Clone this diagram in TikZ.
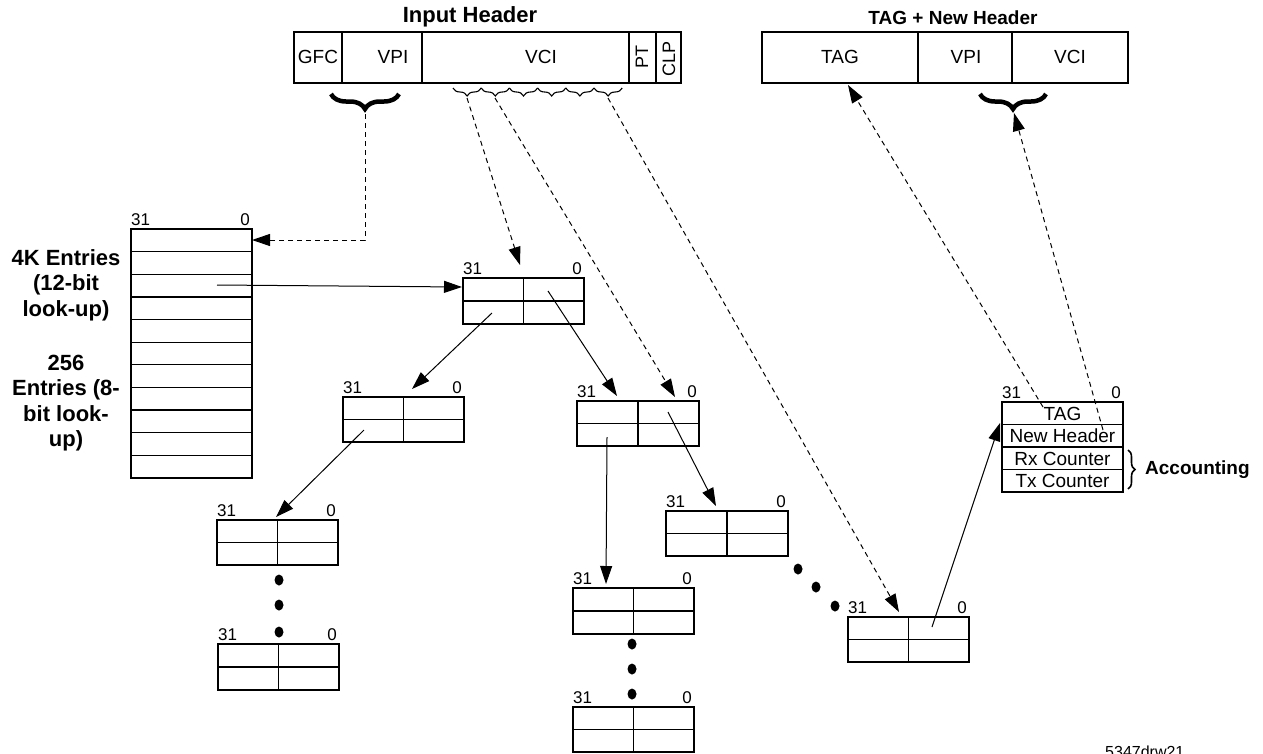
\documentclass[tikz,border=0pt]{standalone}
\usepackage{fontspec}
\setmainfont{Liberation Sans}
\usetikzlibrary{arrows.meta,decorations.pathreplacing,calc}
\begin{document}
\begin{tikzpicture}[x=1pt,y=-1pt,
  box/.style={draw, line width=1.3pt, inner sep=0pt, outer sep=0pt},
  bitlbl/.style={font=\fontsize{17}{20}\selectfont, inner xsep=0pt, inner ysep=3pt},
  bits/.style={label={[bitlbl, anchor=south west]north west:31},
               label={[bitlbl, anchor=south east, xshift=-2pt]north east:0}},
  tab/.style={box, bits, anchor=north west, minimum width=121pt, minimum height=45pt,
     path picture={\draw[line width=1.3pt] (path picture bounding box.north) -- (path picture bounding box.south)
        (path picture bounding box.west) -- (path picture bounding box.east);}},
  hcell/.style={box, anchor=north west, minimum height=51pt},
  cell/.style={font=\fontsize{19}{22}\selectfont, inner sep=0pt},
  title/.style={font=\bfseries\fontsize{19}{22}\selectfont, inner sep=0pt},
  side/.style={font=\bfseries\fontsize{22}{25.5}\selectfont, align=center, inner sep=0pt},
  arr/.style={line width=1pt, -{Triangle[length=18pt,width=12pt]}},
  darr/.style={arr, dash pattern=on 5pt off 4pt},
  bigbrace/.style={decorate, decoration={brace, mirror, amplitude=15pt}, line width=4.5pt},
  smallbrace/.style={decorate, decoration={brace, mirror, amplitude=8pt}, line width=1.1pt}
]
\useasboundingbox (0,0) rectangle (1263,753);

% ---------- Input header ----------
\node[title, font=\bfseries\fontsize{22}{24}\selectfont] (ihtitle) at (470,17) {Input Header};
\node[hcell, minimum width=48pt]  (gfc) at (294,32) {};
\node[hcell, minimum width=80pt]  (vpi) at (342,32) {};
\node[hcell, minimum width=207pt] (vci) at (422,32) {};
\node[hcell, minimum width=27pt]  (pt)  at (629,32) {};
\node[hcell, minimum width=25pt]  (clp) at (656,32) {};
\node[cell] (tgfc) at (318,57) {GFC};
\node[cell] (tvpi) at (393,57) {VPI};
\node[cell] (tvci) at (541,57) {VCI};
\node[cell, rotate=90, font=\fontsize{18}{20}\selectfont] (tpt) at (642,57) {PT};
\node[cell, rotate=90, font=\fontsize{18}{20}\selectfont] (tclp) at (669,59) {CLP};

\draw[bigbrace] (331,94) -- (399,94);
\foreach \i in {0,...,5}
  \draw[smallbrace] ({453+28.2*\i},88) -- ({453+28.2*(\i+1)},88);

% ---------- TAG + New header ----------
\node[title] (nhtitle) at (953,18) {TAG + New Header};
\node[hcell, minimum width=156pt] (tag)  at (762,32) {};
\node[hcell, minimum width=94pt]  (nvpi) at (918,32) {};
\node[hcell, minimum width=116pt] (nvci) at (1012,32) {};
\node[cell] (ttag)  at (840,57) {TAG};
\node[cell] (tnvpi) at (966,57) {VPI};
\node[cell] (tnvci) at (1070,57) {VCI};
\draw[bigbrace] (980,94) -- (1046,94);

% ---------- big look-up table ----------
\node[box, bits, anchor=north west, minimum width=121pt, minimum height=249pt] (big) at (131,229) {};
\foreach \k in {1,...,10}
  \draw[line width=1.3pt] (131,{229+\k*22.636}) -- (252,{229+\k*22.636});
\node[side] (lab1) at (66,285) {4K Entries\\(12-bit\\look-up)};
\node[side] (lab2) at (66,403) {256\\Entries (8-\\bit look-\\up)};

% ---------- small tables ----------
\node[tab, minimum height=46pt] (A) at (463,278) {};
\node[tab] (B) at (343,397) {};
\node[tab, minimum width=122pt] (C) at (577,401) {};
\node[tab] (D) at (217,520) {};
\node[tab, minimum height=46pt] (E) at (218,644) {};
\node[tab, minimum height=46pt] (F) at (573,588) {};
\node[tab] (G) at (573,707) {};
\node[tab, minimum width=122pt] (H) at (666,511) {};
\node[tab] (I) at (848,617) {};

% dots
\foreach \p in {(279,580),(279,605),(279,632),(632,644),(632,669),(632,694),(798,569),(816,587),(835,606)}
  \fill \p ellipse [x radius=4.5pt, y radius=5.5pt];

% ---------- accounting table ----------
\node[box, bits, anchor=north west, minimum width=121pt, minimum height=90pt] (acc) at (1002,402) {};
\draw[line width=1.3pt] (1002,424.5) -- (1123,424.5);
\draw[line width=1.8pt] (1002,447) -- (1123,447);
\draw[line width=1.3pt] (1002,469.5) -- (1123,469.5);
\node[cell] (atag) at (1062.5,413.5) {TAG};
\node[cell] (anh)  at (1062.5,436) {New Header};
\node[cell] (arx)  at (1062.5,458.5) {Rx Counter};
\node[cell] (atx)  at (1062.5,481) {Tx Counter};
\draw[decorate, decoration={brace, amplitude=7pt}, line width=1.6pt] (1128,450) -- (1128,489);
\node[title, anchor=west] (accl) at (1145,470) {Accounting};

\node[anchor=base west, font=\fontsize{16}{18}\selectfont, inner sep=0pt] (drw) at (1105,757) {5347drw21};

% ---------- coordinates ----------
\coordinate (r3) at (217,285);   \coordinate (Ain) at (462,287);
\coordinate (Abl) at (492,313);  \coordinate (Bin) at (412,389);
\coordinate (Atr) at (548,291);  \coordinate (Cin) at (617,396);
\coordinate (Bbl) at (364,430);  \coordinate (Din) at (276,517);
\coordinate (Cbl) at (607,437);  \coordinate (Fin) at (606,584);
\coordinate (Ctr) at (668,412);  \coordinate (Hin) at (716,506);
\coordinate (Ir) at (932,627);   \coordinate (accin) at (1000,423);

\coordinate (bvpi) at (365,114); \coordinate (bigin) at (252,240);
\coordinate (s1) at (467,98);    \coordinate (Atop) at (520,265);
\coordinate (s2) at (495,98);    \coordinate (Ctop) at (675,397);
\coordinate (s6) at (608,98);    \coordinate (Itop) at (899,612);
\coordinate (acctag) at (1043,407); \coordinate (tagin) at (848,85);
\coordinate (accnh) at (1103,430);  \coordinate (bnew) at (1014,113);

% ---------- solid arrows ----------
\draw[arr] (r3) -- (Ain);
\draw[arr] (Abl) -- (Bin);
\draw[arr] (Atr) -- (Cin);
\draw[arr] (Bbl) -- (Din);
\draw[arr] (Cbl) -- (Fin);
\draw[arr] (Ctr) -- (Hin);
\draw[arr] (Ir) -- (accin);

% ---------- dashed arrows ----------
\draw[darr] (bvpi) |- (bigin);
\draw[darr] (s1) -- (Atop);
\draw[darr] (s2) -- (Ctop);
\draw[darr] (s6) -- (Itop);
\draw[darr] (acctag) -- (tagin);
\draw[darr] (accnh) -- (bnew);
\end{tikzpicture}
\end{document}
